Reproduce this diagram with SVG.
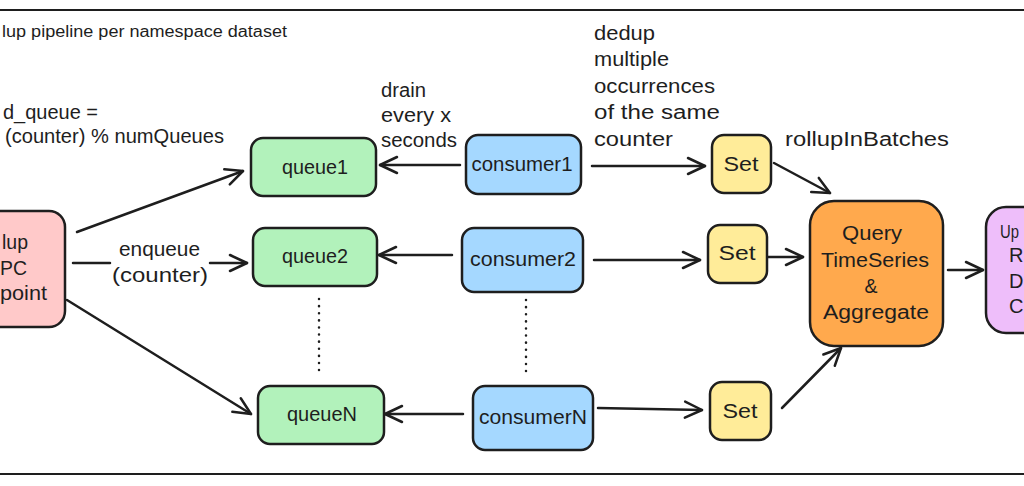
<svg xmlns="http://www.w3.org/2000/svg" width="1024" height="486" viewBox="0 0 1024 486">
<style>
text{font-family:"Liberation Sans","DejaVu Sans",sans-serif;font-size:20px;fill:#1e1e1e}
.t16{font-size:16px}
.node{stroke:#1e1e1e;stroke-width:2.5}
.red{fill:#ffc9c9}.green{fill:#b2f2bb}.blue{fill:#a5d8ff}.yellow{fill:#ffec99}.orange{fill:#ffa94d}.purple{fill:#eebefa}
.c{text-anchor:middle}
.conn line,.conn path{stroke:#1e1e1e;stroke-width:2.5;fill:none;stroke-linecap:round}
.conn .dot{stroke-width:2.5;stroke-dasharray:0.1 7}
.frame{stroke:#1e1e1e;stroke-width:2}
</style>
<defs>
<marker id="ah" markerUnits="userSpaceOnUse" markerWidth="22" markerHeight="20" refX="19" refY="10" orient="auto" overflow="visible">
<path d="M2,2 L19,10 L2,18" fill="none" stroke="#1e1e1e" stroke-width="2.5" stroke-linecap="round" stroke-linejoin="round"/>
</marker>
</defs>
<rect width="1024" height="486" fill="#ffffff"/>
<line class="frame" x1="0" y1="10" x2="1024" y2="10"/>
<line class="frame" x1="0" y1="474" x2="1024" y2="474"/>

<g id="labels">
<text class="t16" x="2" y="37" textLength="285" lengthAdjust="spacingAndGlyphs">lup pipeline per namespace dataset</text>
<text x="3" y="119" textLength="95" lengthAdjust="spacingAndGlyphs">d_queue =</text>
<text x="5" y="143" textLength="219" lengthAdjust="spacingAndGlyphs">(counter) % numQueues</text>
<text x="381" y="97" textLength="45" lengthAdjust="spacingAndGlyphs">drain</text>
<text x="381" y="122" textLength="70" lengthAdjust="spacingAndGlyphs">every x</text>
<text x="381" y="147" textLength="76" lengthAdjust="spacingAndGlyphs">seconds</text>
<text x="594" y="40" textLength="61" lengthAdjust="spacingAndGlyphs">dedup</text>
<text x="594" y="66" textLength="75" lengthAdjust="spacingAndGlyphs">multiple</text>
<text x="594" y="93" textLength="121" lengthAdjust="spacingAndGlyphs">occurrences</text>
<text x="594" y="119" textLength="126" lengthAdjust="spacingAndGlyphs">of the same</text>
<text x="594" y="146" textLength="79" lengthAdjust="spacingAndGlyphs">counter</text>
<text x="785" y="146" textLength="164" lengthAdjust="spacingAndGlyphs">rollupInBatches</text>
<text x="119" y="256" textLength="81" lengthAdjust="spacingAndGlyphs">enqueue</text>
<text x="112" y="282" textLength="96" lengthAdjust="spacingAndGlyphs">(counter)</text>
</g>

<g id="connectors" class="conn">
<line x1="77" y1="232" x2="243" y2="171" marker-end="url(#ah)"/>
<line x1="73" y1="263" x2="110" y2="263"/>
<line x1="210" y1="263" x2="247" y2="263" marker-end="url(#ah)"/>
<line x1="67" y1="300" x2="251" y2="414" marker-end="url(#ah)"/>
<line x1="460" y1="165" x2="380" y2="165" marker-end="url(#ah)"/>
<line x1="452" y1="255" x2="379" y2="255" marker-end="url(#ah)"/>
<line x1="463" y1="414" x2="385" y2="414" marker-end="url(#ah)"/>
<line x1="592" y1="166" x2="705" y2="166" marker-end="url(#ah)"/>
<line x1="594" y1="260" x2="700" y2="260" marker-end="url(#ah)"/>
<line x1="598" y1="408" x2="702" y2="410" marker-end="url(#ah)"/>
<line x1="774" y1="163" x2="830" y2="193" marker-end="url(#ah)"/>
<line x1="768" y1="257" x2="803" y2="257" marker-end="url(#ah)"/>
<line x1="782" y1="408" x2="841" y2="348" marker-end="url(#ah)"/>
<line x1="948" y1="270" x2="983" y2="270" marker-end="url(#ah)"/>
<line class="dot" x1="319" y1="299" x2="319" y2="372"/>
<line class="dot" x1="526" y1="300" x2="526" y2="372"/>
</g>

<g id="rpc">
<rect class="node red" x="-60" y="211" width="125" height="116" rx="16"/>
<text x="28" y="249" text-anchor="end" textLength="26" lengthAdjust="spacingAndGlyphs">lup</text>
<text x="27" y="275" text-anchor="end" textLength="27" lengthAdjust="spacingAndGlyphs">PC</text>
<text x="47" y="300" text-anchor="end" textLength="47" lengthAdjust="spacingAndGlyphs">point</text>
</g>

<g id="queue1">
<rect class="node green" x="251" y="138" width="125" height="58" rx="12"/>
<text class="c" x="315" y="174" textLength="66" lengthAdjust="spacingAndGlyphs">queue1</text>
</g>
<g id="queue2">
<rect class="node green" x="253" y="228" width="124" height="58" rx="12"/>
<text class="c" x="315" y="263" textLength="66" lengthAdjust="spacingAndGlyphs">queue2</text>
</g>
<g id="queueN">
<rect class="node green" x="258" y="386" width="126" height="58" rx="12"/>
<text class="c" x="322" y="421" textLength="70" lengthAdjust="spacingAndGlyphs">queueN</text>
</g>

<g id="consumer1">
<rect class="node blue" x="466" y="135" width="115" height="59" rx="12"/>
<text class="c" x="522" y="171" textLength="101" lengthAdjust="spacingAndGlyphs">consumer1</text>
</g>
<g id="consumer2">
<rect class="node blue" x="462" y="228" width="121" height="64" rx="12"/>
<text class="c" x="523" y="266" textLength="106" lengthAdjust="spacingAndGlyphs">consumer2</text>
</g>
<g id="consumerN">
<rect class="node blue" x="473" y="386" width="120" height="64" rx="12"/>
<text class="c" x="533" y="424" textLength="108" lengthAdjust="spacingAndGlyphs">consumerN</text>
</g>

<g id="set1">
<rect class="node yellow" x="712" y="135" width="59" height="58" rx="12"/>
<text class="c" x="741" y="171" textLength="35" lengthAdjust="spacingAndGlyphs">Set</text>
</g>
<g id="set2">
<rect class="node yellow" x="708" y="225" width="59" height="58" rx="12"/>
<text class="c" x="737" y="260" textLength="37" lengthAdjust="spacingAndGlyphs">Set</text>
</g>
<g id="set3">
<rect class="node yellow" x="710" y="382" width="61" height="58" rx="12"/>
<text class="c" x="740" y="418" textLength="35" lengthAdjust="spacingAndGlyphs">Set</text>
</g>

<g id="query">
<rect class="node orange" x="810" y="201" width="133" height="145" rx="24"/>
<text class="c" x="872" y="240" textLength="60" lengthAdjust="spacingAndGlyphs">Query</text>
<text class="c" x="875" y="267" textLength="108" lengthAdjust="spacingAndGlyphs">TimeSeries</text>
<text class="c" x="871" y="293" textLength="13" lengthAdjust="spacingAndGlyphs">&amp;</text>
<text class="c" x="876" y="319" textLength="106" lengthAdjust="spacingAndGlyphs">Aggregate</text>
</g>

<g id="update">
<rect class="node purple" x="986" y="207" width="90" height="126" rx="20"/>
<text x="1000" y="238" style="font-size:18px" textLength="19" lengthAdjust="spacingAndGlyphs">Up</text>
<text x="1009" y="262">R</text>
<text x="1009" y="288">D</text>
<text x="1009" y="313">C</text>
</g>
</svg>
